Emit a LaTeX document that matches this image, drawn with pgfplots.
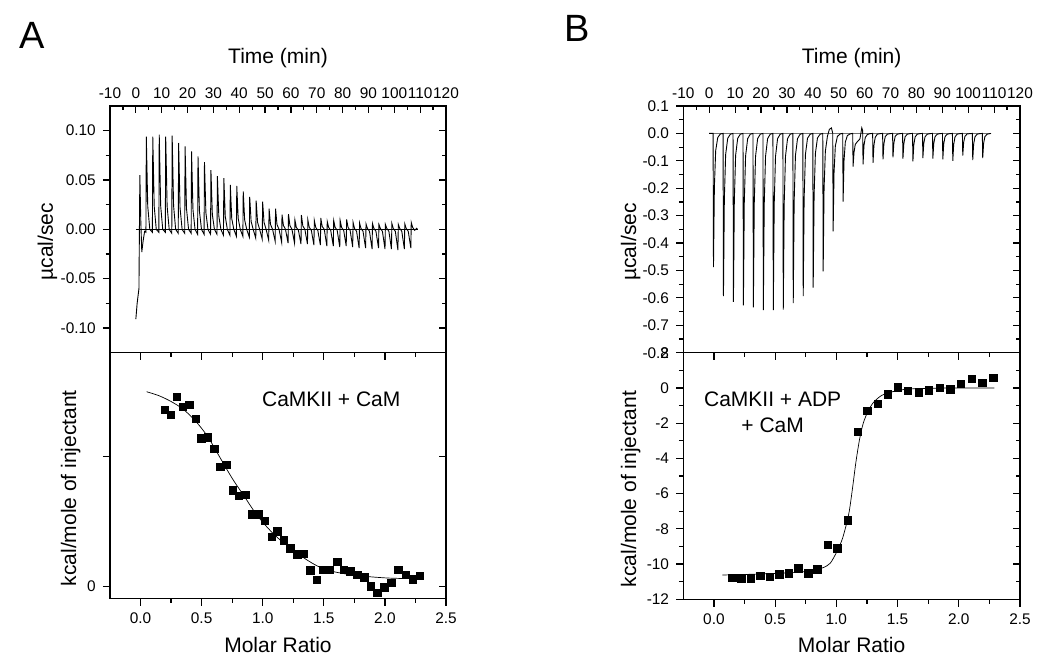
\documentclass[border=0pt]{standalone}
\usepackage{fontspec}
\setmainfont{Liberation Sans}
\usepackage{pgfplots}
\pgfplotsset{compat=1.18}

\pgfplotsset{
  itc/.style={
    scale only axis, anchor=south west,
    axis line style={line width=0.6pt},
    every tick/.style={line width=0.6pt, black},
    major tick length=3.6pt, minor tick length=2.2pt,
    tick label style={font=\fontsize{7.7}{9}\selectfont},
    label style={font=\fontsize{10.5}{12}\selectfont},
    /pgf/number format/assume math mode=true,
  },
  timeax/.style={itc, width=168pt, height=123.35pt,
    xmin=-10, xmax=120, xtick={-10,0,...,120}, minor x tick num=1},
  ratioax/.style={itc, width=168pt, height=122.8pt,
    xmin=-0.25, xmax=2.5, xtick={0,0.5,...,2.5}, minor x tick num=1,
    xticklabel style={/pgf/number format/.cd, fixed, fixed zerofill, precision=1}},
}

\begin{document}
\begin{tikzpicture}
\path[use as bounding box] (0,0) rectangle (525pt,335.5pt);

\node[font=\fontsize{19}{20}\selectfont] at (16pt,317.75pt) {A};
\node[font=\fontsize{19}{20}\selectfont] at (288.75pt,321.25pt) {B};

% ---------- A, raw heat ----------
\begin{axis}[timeax, at={(55pt,159.15pt)},
  ymin=-0.125, ymax=0.125, ytick={-0.10,-0.05,...,0.11}, minor y tick num=1,
  tick align=inside, xtick pos=top, xticklabel pos=top, ytick pos=right, yticklabels={},
  xlabel={Time (min)}, xlabel style={at={(axis description cs:0.5,1.195)}, anchor=center}]
\addplot[black, line width=0.2pt] coordinates {(0,0)(109,0)};
\addplot[black, line width=0.45pt] coordinates {
(0,-0.091)(0.5,-0.075)(1.2,-0.06)(1.55,0.055)(1.9,0.01)(2.3,-0.023)(2.8,-0.012)(3.4,-0.002)
(3.9,-0.003)(4.05,0.094)(4.6,0.0235)(5.4,0)
(6.4,-0.003)(6.55,0.094)(7.1,0.0235)(7.9,0)
(8.9,-0.003)(9.05,0.096)(9.6,0.024)(10.4,0)
(11.4,-0.003)(11.55,0.094)(12.1,0.0235)(12.9,0)
(13.9,-0.004)(14.05,0.095)(14.6,0.024)(15.4,0)
(16.4,-0.004)(16.55,0.0875)(17.1,0.022)(17.9,0)
(18.9,-0.004)(19.05,0.084)(19.6,0.021)(20.4,0)
(21.4,-0.004)(21.55,0.079)(22.1,0.02)(22.9,0)
(23.9,-0.005)(24.05,0.074)(24.6,0.0185)(25.4,0)
(26.4,-0.005)(26.55,0.068)(27.1,0.017)(27.9,0)
(28.9,-0.005)(29.05,0.060)(29.6,0.015)(30.4,0)
(31.4,-0.005)(31.55,0.054)(32.1,0.0135)(32.9,0)
(33.9,-0.006)(34.05,0.052)(34.6,0.013)(35.4,0)
(36.4,-0.006)(36.55,0.045)(37.1,0.011)(37.9,0)
(38.9,-0.007)(39.05,0.044)(39.6,0.011)(40.4,0)
(41.4,-0.007)(41.55,0.0385)(42.1,0.0095)(42.9,0)
(43.9,-0.008)(44.05,0.033)(44.6,0.008)(45.4,0)
(46.4,-0.009)(46.55,0.029)(47.1,0.007)(47.9,0)
(48.9,-0.010)(49.05,0.028)(49.6,0.007)(50.4,0)
(51.4,-0.011)(51.55,0.021)(52.1,0.005)(52.9,0)
(53.9,-0.012)(54.05,0.021)(54.6,0.005)(55.4,0)
(56.4,-0.013)(56.55,0.015)(57.1,0.004)(57.9,0)
(58.9,-0.014)(59.05,0.0155)(59.6,0.004)(60.4,0)
(61.4,-0.014)(61.55,0.0095)(62.1,0.002)(62.9,-0.001)
(63.9,-0.015)(64.05,0.0145)(64.6,0.0035)(65.4,0)
(66.4,-0.015)(66.55,0.0095)(67.1,0.002)(67.9,-0.001)
(68.9,-0.016)(69.05,0.009)(69.6,0.002)(70.4,-0.001)
(71.4,-0.016)(71.55,0.0115)(72.1,0.003)(72.9,0)
(73.9,-0.017)(74.05,0.008)(74.6,0.002)(75.4,-0.001)
(76.4,-0.017)(76.55,0.009)(77.1,0.002)(77.9,-0.001)
(78.9,-0.018)(79.05,0.009)(79.6,0.002)(80.4,-0.001)
(81.4,-0.017)(81.55,0.010)(82.1,0.002)(82.9,-0.001)
(83.9,-0.018)(84.05,0.007)(84.6,0.001)(85.4,-0.002)
(86.4,-0.019)(86.55,0.0065)(87.1,0.001)(87.9,-0.002)
(88.9,-0.019)(89.05,0.0055)(89.6,0.001)(90.4,-0.002)
(91.4,-0.020)(91.55,0.006)(92.1,0.001)(92.9,-0.002)
(93.9,-0.019)(94.05,0.005)(94.6,0.001)(95.4,-0.002)
(96.4,-0.020)(96.55,0.005)(97.1,0.001)(97.9,-0.002)
(98.9,-0.020)(99.05,0.006)(99.6,0.001)(100.4,-0.002)
(101.4,-0.021)(101.55,0.005)(102.1,0.001)(102.9,-0.002)
(103.9,-0.020)(104.05,0.0055)(104.6,0.001)(105.4,-0.002)
(106.4,-0.019)(106.55,0.007)(107.1,0.002)(107.9,-0.001)
(108.6,0.001)(109,0)};
\end{axis}
\begin{axis}[timeax, at={(55pt,159.15pt)},
  ymin=-0.125, ymax=0.125, ytick={-0.10,-0.05,...,0.11}, minor y tick num=1,
  tick align=outside, xtick=\empty, ytick pos=left,
  yticklabel style={/pgf/number format/.cd, fixed, fixed zerofill, precision=2},
  ylabel={µcal/sec}, ylabel style={at={(axis description cs:-0.186,0.45)}, anchor=center}]
\end{axis}

% ---------- A, integrated ----------
\begin{axis}[ratioax, at={(55pt,36.35pt)},
  ymin=-0.092, ymax=1.795, ytick={0,1}, yticklabels={0,},
  tick align=outside, xtick pos=bottom, ytick pos=left,
  xlabel={Molar Ratio}, xlabel style={at={(axis description cs:0.5,-0.19)}, anchor=center},
  ylabel={kcal/mole of injectant}, ylabel style={at={(axis description cs:-0.117,0.448)}, anchor=center}]
\addplot[black, line width=0.35pt, smooth] coordinates {
(0.05,1.495)(0.15,1.465)(0.25,1.42)(0.35,1.36)(0.45,1.27)(0.55,1.15)(0.65,0.99)
(0.75,0.83)(0.85,0.69)(0.95,0.55)(1.05,0.44)(1.15,0.35)(1.25,0.28)(1.35,0.21)
(1.45,0.155)(1.55,0.12)(1.65,0.10)(1.8,0.08)(2.0,0.065)(2.15,0.06)(2.29,0.058)};
\addplot[only marks, mark=square*, mark size=1.85pt, black] coordinates {
(0.201,1.354)(0.250,1.315)(0.299,1.456)(0.348,1.379)(0.399,1.395)(0.451,1.285)
(0.497,1.136)(0.549,1.144)(0.606,1.054)(0.652,0.918)(0.704,0.931)(0.758,0.736)
(0.807,0.695)(0.859,0.703)(0.916,0.554)(0.965,0.554)(1.016,0.505)(1.073,0.379)
(1.120,0.423)(1.174,0.354)(1.228,0.292)(1.283,0.244)(1.337,0.249)(1.391,0.123)
(1.443,0.051)(1.495,0.128)(1.549,0.128)(1.611,0.190)(1.663,0.128)(1.717,0.115)
(1.774,0.090)(1.832,0.069)(1.886,0.000)(1.940,-0.049)(1.997,-0.008)(2.054,0.028)
(2.111,0.128)(2.171,0.090)(2.228,0.054)(2.288,0.079)};
\node[font=\fontsize{10.5}{12}\selectfont] at (axis cs:1.561,1.438) {CaMKII + CaM};
\end{axis}
\begin{axis}[ratioax, at={(55pt,36.35pt)},
  ymin=-0.092, ymax=1.795, ytick={0,1},
  tick align=inside, xtick pos=top, ytick pos=right, xticklabels={}, yticklabels={}]
\end{axis}

% ---------- B, raw heat ----------
\begin{axis}[timeax, width=168.35pt, at={(341.65pt,159.15pt)},
  ymin=-0.8, ymax=0.1, ytick={-0.8,-0.7,...,0.11}, minor y tick num=1,
  tick align=inside, xtick pos=top, xticklabel pos=top, ytick pos=right, yticklabels={},
  xlabel={Time (min)}, xlabel style={at={(axis description cs:0.5,1.195)}, anchor=center}]
\addplot[black!55, line width=0.3pt] coordinates {(0,0)(108.7,0)};
\addplot[black, line width=0.45pt] coordinates {
(0,0)
(1.5,0)(1.65,-0.488)(2.0,-0.195)(2.5,-0.063)(3.3,-0.015)(4.3,-0.002)
(5.35,0)(5.5,-0.594)(5.85,-0.238)(6.35,-0.077)(7.15,-0.018)(8.15,-0.003)
(9.2,0)(9.35,-0.615)(9.7,-0.246)(10.2,-0.080)(11.0,-0.018)(12.0,-0.003)
(13.05,0)(13.2,-0.627)(13.55,-0.251)(14.05,-0.082)(14.85,-0.019)(15.85,-0.003)
(16.9,0)(17.05,-0.635)(17.4,-0.254)(17.9,-0.083)(18.7,-0.019)(19.7,-0.003)
(20.75,0)(20.9,-0.645)(21.25,-0.258)(21.75,-0.084)(22.55,-0.019)(23.55,-0.003)
(24.6,0)(24.75,-0.645)(25.1,-0.258)(25.6,-0.084)(26.4,-0.019)(27.4,-0.003)
(28.45,0)(28.6,-0.643)(28.95,-0.257)(29.45,-0.084)(30.25,-0.019)(31.25,-0.003)
(32.3,0)(32.45,-0.619)(32.8,-0.248)(33.3,-0.080)(34.1,-0.019)(35.1,-0.003)
(36.15,0)(36.3,-0.594)(36.65,-0.238)(37.15,-0.077)(37.95,-0.018)(38.95,-0.003)
(40.0,0)(40.15,-0.563)(40.5,-0.225)(41.0,-0.073)(41.8,-0.017)(42.8,-0.003)
(43.85,0)(44.0,-0.503)(44.35,-0.201)(44.85,-0.065)(45.65,-0.010)(46.4,0.015)(47.2,0.02)
(47.7,0)(47.85,-0.357)(48.2,-0.143)(48.7,-0.046)(49.5,-0.011)(50.5,-0.002)
(51.55,0)(51.7,-0.249)(52.05,-0.100)(52.55,-0.032)(53.35,-0.008)(54.35,-0.002)
(55.4,0)(55.55,-0.121)(55.9,-0.07)(56.4,-0.04)(57.2,-0.03)(58.2,-0.02)(58.9,0.02)
(59.25,0.01)(59.4,-0.113)(59.75,-0.045)(60.25,-0.015)(61.05,-0.004)(62.05,-0.001)
(63.1,0)(63.25,-0.107)(63.6,-0.043)(64.1,-0.014)(64.9,-0.003)(65.9,-0.001)
(66.95,0)(67.1,-0.095)(67.45,-0.038)(67.95,-0.012)(68.75,-0.003)(69.75,-0.001)
(70.8,0)(70.95,-0.087)(71.3,-0.035)(71.8,-0.011)(72.6,-0.003)(73.6,-0.001)
(74.65,0)(74.8,-0.092)(75.15,-0.037)(75.65,-0.012)(76.45,-0.003)(77.45,-0.001)
(78.5,0)(78.65,-0.102)(79.0,-0.041)(79.5,-0.013)(80.3,-0.003)(81.3,-0.001)
(82.35,0)(82.5,-0.09)(82.85,-0.036)(83.35,-0.012)(84.15,-0.003)(85.15,-0.001)
(86.2,0)(86.35,-0.092)(86.7,-0.037)(87.2,-0.012)(88.0,-0.003)(89.0,-0.001)
(90.05,0)(90.2,-0.095)(90.55,-0.038)(91.05,-0.012)(91.85,-0.003)(92.85,-0.001)
(93.9,0)(94.05,-0.1)(94.4,-0.04)(94.9,-0.013)(95.7,-0.003)(96.7,-0.001)
(97.75,0)(97.9,-0.081)(98.25,-0.032)(98.75,-0.011)(99.55,-0.002)(100.55,-0.001)
(101.6,0)(101.75,-0.097)(102.1,-0.039)(102.6,-0.013)(103.4,-0.003)(104.4,-0.001)
(105.45,0)(105.6,-0.09)(105.95,-0.036)(106.45,-0.012)(107.25,-0.003)(108.25,-0.001)
(108.8,0)};
\end{axis}
\begin{axis}[timeax, width=168.35pt, at={(341.65pt,159.15pt)},
  ymin=-0.8, ymax=0.1, ytick={-0.8,-0.7,...,0.11}, minor y tick num=1,
  tick align=outside, xtick=\empty, ytick pos=left,
  yticklabel style={/pgf/number format/.cd, fixed, fixed zerofill, precision=1},
  ylabel={µcal/sec}, ylabel style={at={(axis description cs:-0.156,0.449)}, anchor=center}]
\end{axis}

% ---------- B, integrated ----------
\begin{axis}[ratioax, width=168.35pt, height=123.3pt, at={(341.65pt,35.85pt)},
  ymin=-12, ymax=2, ytick={-12,-10,...,2}, minor y tick num=1,
  tick align=outside, xtick pos=bottom, ytick pos=left,
  xlabel={Molar Ratio}, xlabel style={at={(axis description cs:0.5,-0.185)}, anchor=center},
  ylabel={kcal/mole of injectant}, ylabel style={at={(axis description cs:-0.156,0.447)}, anchor=center}]
\addplot[black, line width=0.35pt, smooth] coordinates {
(0.07,-10.62)(0.3,-10.58)(0.5,-10.53)(0.7,-10.45)(0.8,-10.38)(0.85,-10.3)(0.9,-10.18)
(0.95,-9.95)(1.0,-9.35)(1.05,-8.55)(1.1,-7.2)(1.13,-5.8)(1.16,-4.2)(1.19,-2.9)
(1.22,-2.0)(1.26,-1.3)(1.3,-0.85)(1.35,-0.52)(1.4,-0.33)(1.5,-0.15)(1.6,-0.06)
(1.8,-0.02)(2.0,0)(2.29,0)};
\addplot[only marks, mark=square*, mark size=1.85pt, black] coordinates {
(0.150,-10.77)(0.226,-10.81)(0.302,-10.81)(0.379,-10.66)(0.458,-10.73)(0.534,-10.58)
(0.610,-10.54)(0.689,-10.24)(0.771,-10.52)(0.844,-10.30)(0.929,-8.92)(1.008,-9.12)
(1.092,-7.51)(1.174,-2.50)(1.255,-1.31)(1.337,-0.91)(1.419,-0.36)(1.501,0.04)
(1.585,-0.17)(1.672,-0.25)(1.757,-0.13)(1.844,0.00)(1.931,-0.09)(2.018,0.23)
(2.105,0.51)(2.192,0.30)(2.282,0.57)};
\node[font=\fontsize{10.5}{13.3}\selectfont, align=center] at (axis cs:0.48,-1.38) {CaMKII + ADP\\\hspace*{0pt}+ CaM};
\end{axis}
\begin{axis}[ratioax, width=168.35pt, height=123.3pt, at={(341.65pt,35.85pt)},
  ymin=-12, ymax=2, ytick={-12,-10,...,2}, minor y tick num=1,
  tick align=inside, xtick pos=top, ytick pos=right, xticklabels={}, yticklabels={}]
\end{axis}
\end{tikzpicture}
\end{document}
